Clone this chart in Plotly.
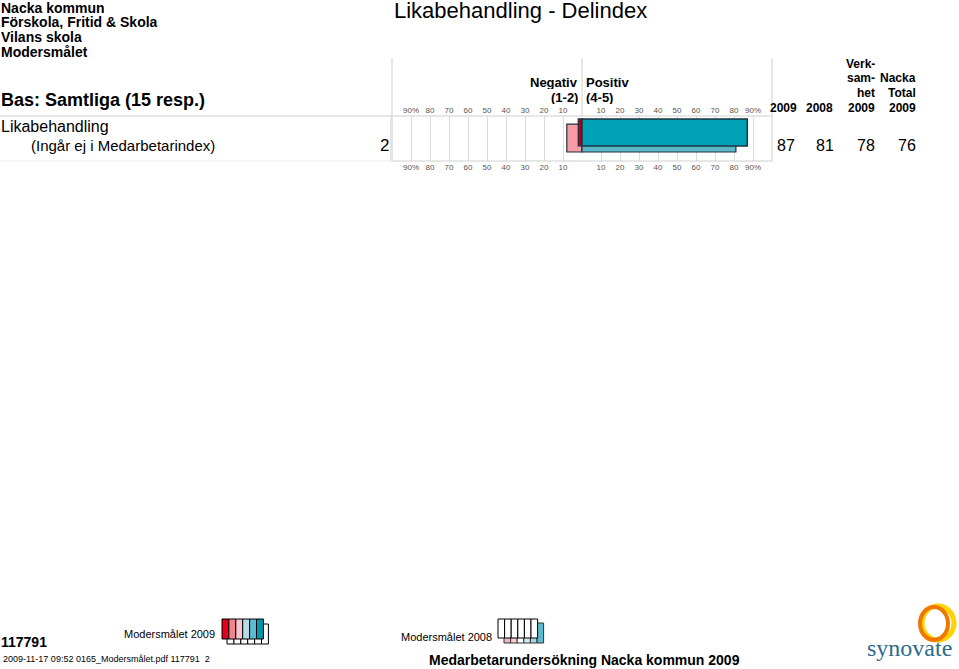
import plotly.graph_objects as go

# ---------------- data ----------------
row_labels = ["Likabehandling", "(Ingår ej i Medarbetarindex)"]
row_number = ["2"]
neg_2009 = [2]      # Negativ (1-2), 2009
pos_2009 = [87]     # Positiv (4-5), 2009
neg_2008 = [8]      # Negativ (1-2), 2008
pos_2008 = [81]     # Positiv (4-5), 2008
col_2009 = [87]
col_2008 = [81]
verksamhet_2009 = [78]
nacka_total_2009 = [76]
tick_vals = [-90, -80, -70, -60, -50, -40, -30, -20, -10, 10, 20, 30, 40, 50, 60, 70, 80, 90]
tick_text = ["90%", "80", "70", "60", "50", "40", "30", "20", "10",
             "10", "20", "30", "40", "50", "60", "70", "80", "90%"]
legend_2009 = ["#e3001b", "#f0848f", "#f7c6cc", "#b5dde8", "#5bbbd0", "#0096ad"]
legend_2008 = ["#f3b7bd", "#f6cfd3", "#ffffff", "#d3ecf2", "#a8d8e4", "#5bbbd0"]

W, H = 959, 669
def px(x):
    return x / W
def py(y):
    return 1 - y / H

SANS = "Liberation Sans, Arial, Helvetica"
EDGE = "#1c3440"

fig = go.Figure()

# 2008 bars (behind)
fig.add_trace(go.Bar(orientation="h", x=[-v for v in neg_2008], y=[0.49], width=[0.62],
                     marker=dict(color="#f79ca4", line=dict(color=EDGE, width=1.2)),
                     showlegend=False, hoverinfo="x"))
fig.add_trace(go.Bar(orientation="h", x=pos_2008, y=[0.49], width=[0.62],
                     marker=dict(color="#5cb7c9", line=dict(color=EDGE, width=1.2)),
                     showlegend=False, hoverinfo="x"))
# 2009 bars (front)
fig.add_trace(go.Bar(orientation="h", x=[-v for v in neg_2009], y=[0.365], width=[0.6],
                     marker=dict(color="#b0001a", line=dict(color=EDGE, width=1.2)),
                     showlegend=False, hoverinfo="x"))
fig.add_trace(go.Bar(orientation="h", x=pos_2009, y=[0.365], width=[0.6],
                     marker=dict(color="#00a0b6", line=dict(color=EDGE, width=1.5)),
                     showlegend=False, hoverinfo="x"))
# invisible trace for top axis
fig.add_trace(go.Scatter(x=[-100, 100], y=[0.5, 0.5], xaxis="x2", mode="markers",
                         marker=dict(opacity=0), showlegend=False, hoverinfo="skip"))

axis_common = dict(range=[-100, 100], tickmode="array", tickvals=tick_vals, ticktext=tick_text,
                   tickfont=dict(family=SANS, size=8, color="#555555"), ticks="",
                   showline=False, zeroline=False, fixedrange=True)
fig.update_layout(
    width=W, height=H, margin=dict(l=0, r=0, t=0, b=0),
    paper_bgcolor="white", plot_bgcolor="white", barmode="overlay",
    xaxis=dict(domain=[px(392), px(772)], showgrid=True, gridcolor="#dcdcdc", gridwidth=1,
               side="bottom", **axis_common),
    xaxis2=dict(domain=[px(392), px(772)], overlaying="x", anchor="y", side="top",
                showgrid=False, **axis_common),
    yaxis=dict(domain=[py(161), py(116)], range=[1, 0], showticklabels=False, showgrid=False,
               zeroline=False, fixedrange=True),
)

shapes = []
line_col = "#cfcfcf"
# frame
shapes.append(dict(type="line", xref="paper", yref="paper", x0=px(392), x1=px(772), y0=py(116), y1=py(116), line=dict(color=line_col, width=1)))
shapes.append(dict(type="line", xref="paper", yref="paper", x0=px(392), x1=px(772), y0=py(161), y1=py(161), line=dict(color=line_col, width=1)))
shapes.append(dict(type="rect", xref="paper", yref="paper", x0=px(390), x1=px(393), y0=py(161), y1=py(116), line=dict(width=0), fillcolor="#e4e4e4"))
shapes.append(dict(type="line", xref="paper", yref="paper", x0=px(392), x1=px(392), y0=py(116), y1=py(58), line=dict(color=line_col, width=1)))
shapes.append(dict(type="line", xref="paper", yref="paper", x0=px(772), x1=px(772), y0=py(161), y1=py(58), line=dict(color=line_col, width=1)))
shapes.append(dict(type="line", xref="x", yref="paper", x0=0, x1=0, y0=py(116), y1=py(58), line=dict(color=line_col, width=1)))
# row separators on the left
shapes.append(dict(type="line", xref="paper", yref="paper", x0=0, x1=px(392), y0=py(116), y1=py(116), line=dict(color=line_col, width=1)))
shapes.append(dict(type="line", xref="paper", yref="paper", x0=0, x1=px(392), y0=py(161), y1=py(161), line=dict(color="#ececec", width=1)))

# legend swatches 2009: white boxes behind, colored in front
for i, c in enumerate(legend_2009):
    x0 = 227 + i * 6.9
    shapes.append(dict(type="rect", xref="paper", yref="paper", x0=px(x0), x1=px(x0 + 6.9), y0=py(644), y1=py(624),
                       fillcolor="white", line=dict(color="black", width=1)))
for i, c in enumerate(legend_2009):
    x0 = 222 + i * 6.9
    shapes.append(dict(type="rect", xref="paper", yref="paper", x0=px(x0), x1=px(x0 + 6.9), y0=py(639), y1=py(619),
                       fillcolor=c, line=dict(color="black", width=1)))
# legend swatches 2008: colored boxes behind, white in front
for i, c in enumerate(legend_2008):
    x0 = 504 + i * 6.6
    shapes.append(dict(type="rect", xref="paper", yref="paper", x0=px(x0), x1=px(x0 + 6.6), y0=py(643), y1=py(623),
                       fillcolor=c, line=dict(color="#333333", width=1)))
for i, c in enumerate(legend_2008):
    x0 = 498 + i * 6.6
    shapes.append(dict(type="rect", xref="paper", yref="paper", x0=px(x0), x1=px(x0 + 6.6), y0=py(638), y1=py(619),
                       fillcolor="white", line=dict(color="black", width=1)))
# synovate ring
shapes.append(dict(type="circle", xref="paper", yref="paper", x0=px(922), x1=px(954), y0=py(640), y1=py(606),
                   line=dict(color="#ffd200", width=5)))
shapes.append(dict(type="circle", xref="paper", yref="paper", x0=px(920), x1=px(948), y0=py(640), y1=py(607),
                   line=dict(color="#f07800", width=4)))
fig.update_layout(shapes=shapes)

ann = []
def text(t, x, y, size, anchor="left", bold=False, family=SANS, color="black", height=None):
    a = dict(text=("<b>%s</b>" % t) if bold else t, x=px(x), y=py(y), xref="paper", yref="paper",
             xanchor=anchor, yanchor="middle", showarrow=False, borderpad=0,
             font=dict(family=family, size=size, color=color))
    if height:
        a["height"] = height
    ann.append(a)

text("Nacka kommun", 0, 8, 14, bold=True, height=14)
text("Förskola, Fritid &amp; Skola", 0, 22, 14, bold=True, height=14)
text("Vilans skola", 0, 37, 14, bold=True, height=14)
text("Modersmålet", 0, 52, 14, bold=True, height=14)
text("Bas: Samtliga (15 resp.)", 0, 100, 18, bold=True)
text(row_labels[0], 0, 127, 16, height=17)
text(row_labels[1], 30, 145, 15, height=17)
text(row_number[0], 384, 145, 17, anchor="center")
text("Likabehandling - Delindex", 520, 11, 22, anchor="center")
text("Negativ", 579, 82, 13, anchor="right", bold=True, height=14)
text("(1-2)", 579, 97, 13, anchor="right", bold=True, height=14)
text("Positiv", 585, 82, 13, bold=True, height=14)
text("(4-5)", 585, 97, 13, bold=True, height=14)
# column headers
text("2009", 798, 108, 12, anchor="right", bold=True, height=14)
text("2008", 834, 108, 12, anchor="right", bold=True, height=14)
text("Verk-", 876, 64, 12, anchor="right", bold=True, height=14)
text("sam-", 876, 78, 12, anchor="right", bold=True, height=14)
text("het", 876, 93, 12, anchor="right", bold=True, height=14)
text("2009", 876, 108, 12, anchor="right", bold=True, height=14)
text("Nacka", 917, 78, 12, anchor="right", bold=True, height=14)
text("Total", 917, 93, 12, anchor="right", bold=True, height=14)
text("2009", 917, 108, 12, anchor="right", bold=True, height=14)
# values
text(str(col_2009[0]), 786, 145, 16, anchor="center")
text(str(col_2008[0]), 825, 145, 16, anchor="center")
text(str(verksamhet_2009[0]), 876, 145, 16, anchor="right")
text(str(nacka_total_2009[0]), 917, 145, 16, anchor="right")
# footer
text("117791", 0, 642, 14, bold=True)
text("2009-11-17 09:52 0165_Modersmålet.pdf 117791  2", 2, 659, 9)
text("Modersmålet 2009", 216, 634, 11, anchor="right")
text("Modersmålet 2008", 493, 637, 11, anchor="right")
text("Medarbetarundersökning Nacka kommun 2009", 428, 660, 14, bold=True)
text("synovate", 866, 648, 24, family="Liberation Serif, serif", color="#2b6c8a")
fig.update_layout(annotations=ann)

fig.write_html("out.html", config={"displayModeBar": False},
               post_script="document.body.style.margin='0px';document.body.style.overflow='hidden';")
